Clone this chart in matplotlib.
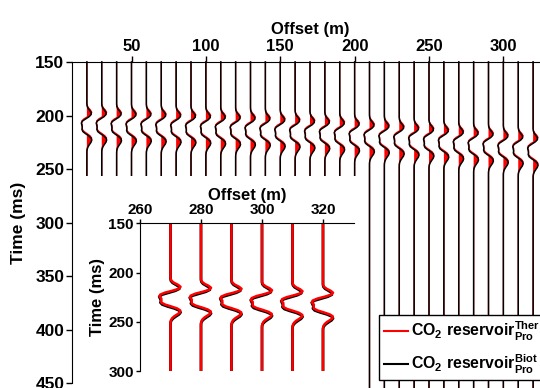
import numpy as np
import matplotlib.pyplot as plt
from matplotlib.patches import Rectangle
from matplotlib.lines import Line2D

plt.rcParams['font.family'] = 'Liberation Sans'
plt.rcParams['font.weight'] = 'bold'
plt.rcParams['axes.labelweight'] = 'bold'
plt.rcParams['mathtext.fontset'] = 'custom'
plt.rcParams['mathtext.rm'] = 'Liberation Sans:bold'
plt.rcParams['mathtext.bf'] = 'Liberation Sans:bold'
plt.rcParams['mathtext.it'] = 'Liberation Sans:bold'
plt.rcParams['mathtext.default'] = 'bf'

# receiver offsets (m) and first-peak arrival time of each trace (ms)
offsets = [20, 30, 40, 50, 60, 70, 80, 90, 100, 110, 120, 130, 140, 150, 160, 170,
           180, 190, 200, 210, 220, 230, 240, 250, 260, 270, 280, 290, 300, 310, 320]
arrival_ms = [197, 197, 197.5, 198, 198, 198.5, 199, 199.5, 200, 200.5, 201, 201.5,
              202, 203, 203.5, 204.5, 205, 206, 207, 208, 209, 210, 211, 212, 213,
              214.5, 215.5, 216.5, 218, 219, 220.5]

# wavelet samples relative to the first peak (ms), amplitude in offset units (m)
tau_ms = [-10, -8, -6, -4, -2, 0, 2, 4, 6, 8, 10, 12, 14, 16, 18, 20, 22, 24, 26,
          28, 30, 32, 34, 36, 38]
ther_amp = [0.0, 0.05, 0.35, 1.2, 2.5, 3.3, 2.7, 0.6, -1.9, -3.4, -3.6, -3.0, -3.1,
            -3.0, -1.8, 0.3, 2.2, 3.2, 3.1, 2.2, 1.2, 0.5, 0.15, 0.0, 0.0]
biot_amp = [0.0, 0.0, 0.15, 0.7, 1.8, 2.8, 2.9, 1.6, -0.6, -2.8, -3.7, -3.4, -3.1,
            -3.3, -2.7, -0.9, 1.3, 2.8, 3.3, 2.8, 1.8, 0.9, 0.3, 0.05, 0.0]

window_ms = (150, 455)
inset_offsets = [270, 280, 290, 300, 310, 320]

tau = np.array(tau_ms, dtype=float)


def trace(offset, t_peak, amp):
    t = np.concatenate(([window_ms[0]], t_peak + tau, [window_ms[1]]))
    a = np.concatenate(([0.0], amp, [0.0]))
    return offset + a, t


fig = plt.figure(figsize=(5.4, 3.88), dpi=100)

# main gather
ax = fig.add_axes([72 / 540, 5 / 388, 476 / 540, 321 / 388])
for off, tp in zip(offsets, arrival_ms):
    xr, t = trace(off, tp, ther_amp)
    xb, _ = trace(off, tp, biot_amp)
    ax.fill_betweenx(t, off, xr, where=xr > off, interpolate=True,
                     color='red', lw=0, zorder=1.5)
    ax.plot(xr, t, color='red', lw=0.9, clip_on=False, zorder=1.8)
    ax.plot(xb, t, color='black', lw=1.1, clip_on=False, zorder=2)

# white backing behind the zoomed panel
ax.add_patch(Rectangle((10, 257), 195, 210, facecolor='white', edgecolor='none',
                       zorder=2.2, clip_on=False))

ax.set_xlim(10, 330)
ax.set_ylim(450, 150)
ax.xaxis.tick_top()
ax.xaxis.set_label_position('top')
ax.set_xticks([50, 100, 150, 200, 250, 300])
ax.set_yticks([150, 200, 250, 300, 350, 400, 450])
ax.spines['right'].set_visible(False)
ax.spines['bottom'].set_visible(False)
ax.tick_params(direction='out', length=4, width=1, pad=1.5)
ax.tick_params(axis='x', labelsize=12)
ax.tick_params(axis='y', labelsize=12.5)
ax.set_xlabel('Offset (m)', fontsize=12, labelpad=4)
ax.set_ylabel('Time (ms)', fontsize=12.5, labelpad=7)

legend_handles = [Line2D([], [], color='red', lw=1.5),
                  Line2D([], [], color='black', lw=1.5)]
fig.legend(legend_handles,
           [r'CO$_2$ reservoir$^{Ther}_{Pro}$', r'CO$_2$ reservoir$^{Biot}_{Pro}$'],
           loc='upper left', bbox_to_anchor=(379 / 540, 1 - 315 / 388),
           fontsize=11.4, frameon=True, fancybox=False, edgecolor='black',
           framealpha=1, borderaxespad=0, borderpad=0.3, handlelength=1.5,
           handletextpad=0.2, labelspacing=0.6)

# zoomed panel of the far offsets
axi = fig.add_axes([140 / 540, 17 / 388, 213.5 / 540, 147.7 / 388])
axi.set_facecolor('white')
for off, tp in zip(offsets, arrival_ms):
    if off not in inset_offsets:
        continue
    xr, t = trace(off, tp, ther_amp)
    xb, _ = trace(off, tp, biot_amp)
    axi.plot(xb, t, color='black', lw=2.0)
    axi.plot(xr, t, color='red', lw=1.8)
axi.set_xlim(260, 330)
axi.set_ylim(300, 150)
axi.xaxis.tick_top()
axi.xaxis.set_label_position('top')
axi.set_xticks([260, 280, 300, 320])
axi.set_yticks([150, 200, 250, 300])
axi.spines['right'].set_visible(False)
axi.spines['bottom'].set_visible(False)
axi.tick_params(direction='out', length=3, width=1, labelsize=11, pad=1.5)
axi.set_xlabel('Offset (m)', fontsize=12, labelpad=2)
axi.set_ylabel('Time (ms)', fontsize=12, labelpad=2)

fig.savefig('out.png', dpi=100)
